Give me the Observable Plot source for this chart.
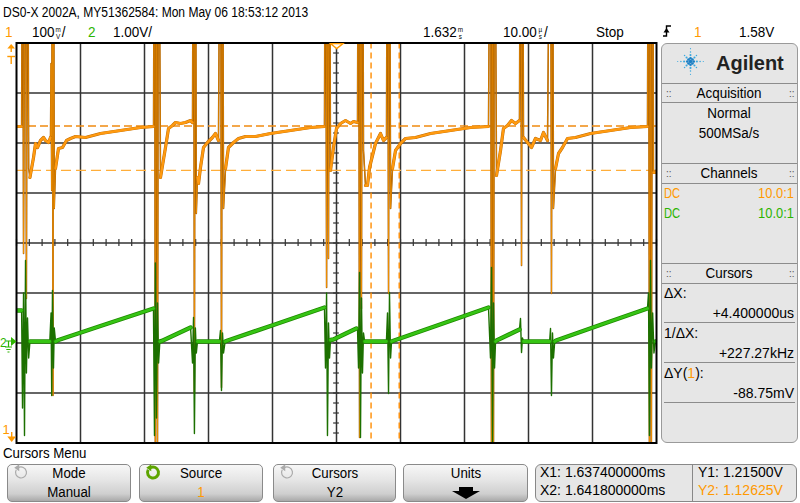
<!DOCTYPE html>
<html><head><meta charset="utf-8">
<script src="https://cdn.jsdelivr.net/npm/d3@7"></script>
<script src="https://cdn.jsdelivr.net/npm/@observablehq/plot@0.6"></script>
<style>
html,body{margin:0;padding:0;background:#fff;}
#root{position:relative;width:800px;height:503px;overflow:hidden;font-family:"Liberation Sans",Arial,sans-serif;background:#fff;}
.t{position:absolute;white-space:nowrap;line-height:1;color:#000;}
.box{position:absolute;box-sizing:border-box;}
.st{display:inline-block;width:6px;height:14px;vertical-align:-2px;margin:0 1px;}
.st>span{display:block;height:7px;line-height:7px;font-size:7px;text-align:center;overflow:visible;}
</style></head><body><div id="root"></div>
<script>
// ---- scope settings (time in µs relative to screen centre 1.632 ms) ----
const timeCentreMs = 1.632;
const timeRange = [-50, 50];            // 10.00 µs/div, 10 divisions
const ch1VoltsPerDiv = 0.1, ch1CentreV = 0.981;   // channel 1: 100 mV/div
const ch2VoltsPerDiv = 1.0, ch2CentreV = 2.0;     // channel 2: 1.00 V/div, ground 2 div below centre
const cursorXms = [1.6374, 1.6418];
const cursorYV = [1.215, 1.12625];

// channel 1 samples [t µs, volts, ringing flag]
const ch1 = [
[-50,1.214],[-49.2,1.214],
[-49.06,1.9,1],[-48.9,0.96,1],[-48.6,1.9,1],[-48.45,0.87,1],[-48.28,1.9,1],[-48.1,1.13,1],
[-47.9,1.112],[-47.34,1.152],[-47.03,1.180],[-46.72,1.172],[-46.25,1.186],[-45.78,1.192],[-45.47,1.186],[-45.0,1.182],[-44.69,1.192],
[-44.6,1.34,1],[-44.5,1.086,1],[-44.38,1.9,1],[-44.3,0.676,1],[-44.22,1.9,1],[-44.1,1.05,1],
[-43.91,1.13],[-43.44,1.170],[-42.81,1.172],[-42.19,1.186],[-41.56,1.190],[-40.78,1.194],[-39.22,1.192],[-36.88,1.200],[-33.75,1.206],[-30.63,1.212],[-28.59,1.214],
[-28.44,1.9,1],[-28.3,0.5,1],[-28.13,1.9,1],[-27.97,0.55,1],[-27.8,1.9,1],
[-27.5,1.112],[-26.72,1.172],[-26.25,1.210],[-25.63,1.216],[-25.16,1.222],[-24.38,1.220],[-23.59,1.222],[-22.81,1.226],[-22.5,1.222],
[-22.34,1.9,1],[-22.2,0.68,1],[-22.05,1.9,1],[-21.9,1.04,1],
[-21.72,1.112],[-21.56,1.100],[-21.25,1.132],[-20.78,1.172],[-20.16,1.182],[-19.38,1.192],[-18.91,1.200],[-18.44,1.186],
[-18.13,1.9,1],[-17.97,0.692,1],[-17.81,1.9,1],[-17.65,1.05,1],
[-17.34,1.130],[-16.88,1.172],[-16.09,1.182],[-15.31,1.190],[-14.22,1.194],[-12.66,1.194],[-10.31,1.200],[-7.19,1.206],[-4.06,1.212],[-1.88,1.214],
[-1.72,1.9,1],[-1.55,0.892,1],[-1.41,1.9,1],[-1.25,0.95,1],[-1.09,1.9,1],
[-0.94,1.126],[-0.47,1.172],[0,1.210],[0.63,1.220],[1.41,1.226],[2.19,1.220],[2.66,1.224],[3.28,1.222],
[3.44,1.9,1],[3.6,0.592,1],[3.75,1.9,1],[3.9,0.85,1],[4.06,1.9,1],[4.22,1.166,1],
[4.53,1.096],[4.84,1.096],[5.16,1.132],[5.63,1.156],[6.09,1.180],[6.88,1.200],[7.34,1.186],[7.81,1.192],
[7.97,1.9,1],[8.13,0.880,1],[8.28,1.9,1],[8.45,1.05,1],
[8.75,1.130],[9.22,1.166],[10.0,1.180],[10.78,1.190],[12.34,1.192],[14.69,1.200],[17.81,1.206],[20.94,1.212],[23.75,1.214],
[24.06,1.9,1],[24.22,0.5,1],[24.38,1.9,1],[24.53,0.55,1],[24.7,1.9,1],
[25.0,1.116],[25.63,1.166],[26.09,1.210],[26.72,1.216],[27.34,1.226],[27.97,1.220],[28.59,1.226],
[28.75,1.9,1],[28.91,0.936,1],[29.06,1.9,1],
[29.22,1.192],[29.84,1.182],[30.47,1.172],[31.09,1.190],[31.88,1.186],[32.34,1.202],[32.97,1.186],
[33.44,1.9,1],[33.59,0.880,1],[33.75,1.9,1],[33.9,1.05,1],
[34.22,1.130],[34.69,1.160],[35.31,1.172],[36.09,1.190],[37.34,1.192],[39.69,1.200],[42.81,1.206],[45.94,1.212],[48.59,1.214],
[48.75,1.9,1],[48.9,0.5,1],[49.06,1.9,1],[49.2,0.55,1],[49.4,1.9,1],
[49.53,1.122],[49.84,1.122],[50,1.125]
];

// channel 2 samples [t µs, volts, ringing flag]
const ch2 = [
[-50,0.65],[-49.2,0.65],
[-49.06,-1.3,1],[-48.9,1.0,1],[-48.75,-1.85,1],[-48.59,1.65,1],[-48.45,-0.6,1],[-48.28,0.5,1],[-48.1,-0.3,1],
[-47.9,0.03],[-44.8,0.03],
[-44.6,0.6,1],[-44.5,-1.05,1],[-44.38,1.05,1],[-44.22,-0.5,1],[-44.1,0.3,1],
[-43.9,0.03],[-43.44,0.06],[-36.88,0.34],[-28.6,0.69],
[-28.44,-1.85,1],[-28.3,1.6,1],[-28.13,-1.5,1],[-27.97,0.8,1],[-27.8,-0.4,1],
[-27.6,0.03],[-27.3,0.04],[-22.8,0.31],
[-22.5,-0.4,1],[-22.34,0.51,1],[-22.2,-1.81,1],[-22.05,0.3,1],[-21.9,-0.2,1],
[-21.72,0.03],[-18.3,0.03],
[-18.13,0.25,1],[-17.97,-0.95,1],[-17.81,0.2,1],[-17.65,-0.2,1],
[-17.4,0.03],[-17.0,0.05],[-9.4,0.38],[-1.88,0.71],
[-1.72,-0.5,1],[-1.55,1.0,1],[-1.41,-1.85,1],[-1.25,0.4,1],[-1.09,-0.3,1],
[-0.94,0.06],[-0.5,0.07],[3.1,0.29],
[3.28,0.3,1],[3.44,-0.5,1],[3.6,1.41,1],[3.75,-1.89,1],[3.9,0.9,1],[4.06,-0.6,1],[4.22,0.2,1],
[4.4,0.03],[7.8,0.03],
[7.97,0.6,1],[8.13,-1.01,1],[8.28,1.01,1],[8.45,-0.3,1],
[8.6,0.03],[9.0,0.05],[16.4,0.38],[23.75,0.71],
[24.06,-0.3,1],[24.22,1.51,1],[24.38,-2.0,1],[24.53,0.8,1],[24.7,-0.5,1],
[24.85,0.03],[25.0,0.05],[28.59,0.27],
[28.75,0.49,1],[28.91,-0.19,1],[29.06,0.1,1],
[29.22,0.03],[33.3,0.03],
[33.44,0.29,1],[33.59,-1.05,1],[33.75,0.2,1],[33.9,-0.3,1],
[34.1,0.03],[34.3,0.05],[41.4,0.37],[48.59,0.69],
[48.75,1.0,1],[48.9,-1.85,1],[49.06,1.65,1],[49.2,-0.5,1],[49.4,0.6,1],[49.6,-0.2,1],
[49.84,0.03],[50,0.03]
];

const gridX = [-40,-30,-20,-10,0,10,20,30,40];
const gridY = [-3,-2,-1,0,1,2,3];
const minorX = d3.range(-50, 50.001, 2);
const minorY = d3.range(-4, 4.001, 0.2);

const d1 = v => (v - ch1CentreV) / ch1VoltsPerDiv;
const d2 = v => (v - ch2CentreV) / ch2VoltsPerDiv;
const cx = cursorXms.map(m => (m - timeCentreMs) * 1000);

const ORANGE = "#ff9900", GREEN = "#2db400";

const chart = Plot.plot({
  width: 660, height: 503,
  marginLeft: 16, marginRight: 4, marginTop: 42.5, marginBottom: 60.5,
  x: {domain: timeRange, axis: null},
  y: {domain: [-4, 4], axis: null},
  style: {background: "transparent", overflow: "visible"},
  marks: [
    Plot.ruleX(gridX, {stroke: "#333", strokeWidth: 1.5}),
    Plot.ruleY(gridY, {stroke: "#333", strokeWidth: 1.5}),
    Plot.ruleX(minorX, {y1: -0.07, y2: 0.07, stroke: "#333", strokeWidth: 1.2}),
    Plot.ruleY(minorY, {x1: -0.45, x2: 0.45, stroke: "#333", strokeWidth: 1.2}),
    // cursors
    Plot.ruleY([cursorYV[0]], {y: d1, stroke: "#f08a10", strokeWidth: 1.4, strokeDasharray: "8,4"}),
    Plot.ruleY([cursorYV[1]], {y: d1, stroke: "#ffae3a", strokeWidth: 1.4, strokeDasharray: "10,5"}),
    Plot.ruleX(cx, {stroke: "#ff8c00", strokeWidth: 1.4, strokeDasharray: "6,4"}),
    // channel 1
    Plot.line(ch1, {x: d => d[0], y: d => d1(d[1]), stroke: "#8f4c00", strokeWidth: 1.5, clip: true}),
    Plot.line(ch1, {x: d => d[0], y: d => d1(d[1]), stroke: "#f39200", strokeWidth: 0.8, clip: true}),
    Plot.line(ch1, {x: d => d[0], y: d => d[2] ? NaN : d1(d[1]), stroke: "#c06c00", strokeWidth: 3.2, clip: true}),
    Plot.line(ch1, {x: d => d[0], y: d => d[2] ? NaN : d1(d[1]), stroke: "#ff9a10", strokeWidth: 2.3, clip: true}),
    // channel 2
    Plot.line(ch2, {x: d => d[0], y: d => d2(d[1]), stroke: "#1c7000", strokeWidth: 1.4, clip: true}),
    Plot.line(ch2, {x: d => d[0], y: d => d[2] ? NaN : d2(d[1]), stroke: "#1f8c00", strokeWidth: 4.4, clip: true}),
    Plot.line(ch2, {x: d => d[0], y: d => d[2] ? NaN : d2(d[1]), stroke: "#36c414", strokeWidth: 2.8, clip: true}),
    Plot.frame({stroke: "#000", strokeWidth: 2})
  ]
});
chart.style.position = "absolute";
chart.style.left = "0px";
chart.style.top = "0px";

const root = document.getElementById("root");
root.appendChild(chart);

function box(x, y, w, h, css) {
  const d = document.createElement("div");
  d.className = "box";
  Object.assign(d.style, {left: x + "px", top: y + "px", width: w + "px", height: h + "px"}, css || {});
  root.appendChild(d);
  return d;
}
function txt(html, x, base, o = {}) {
  const el = document.createElement("div");
  el.className = "t";
  const size = o.size || 14, sx = o.sx || 1;
  el.style.fontSize = size + "px";
  el.style.top = (base - size * 0.85) + "px";
  if (o.color) el.style.color = o.color;
  if (o.bold) el.style.fontWeight = "bold";
  el.innerHTML = html;
  if (o.align === "right") {
    el.style.right = (800 - x) + "px";
    el.style.transformOrigin = "right";
    el.style.transform = `scaleX(${sx})`;
  } else if (o.align === "center") {
    el.style.left = x + "px";
    el.style.transform = `translateX(-50%) scaleX(${sx})`;
  } else {
    el.style.left = x + "px";
    el.style.transformOrigin = "left";
    el.style.transform = `scaleX(${sx})`;
  }
  root.appendChild(el);
  return el;
}
const hl = (x1, x2, y, c) => box(x1, y, x2 - x1, 1, {background: c || "#8c8c8c"});
const stack = (a, b) => `<span class="st"><span>${a}</span><span>${b}</span></span>`;

// ---- header ----
txt("DS0-X 2002A, MY51362584: Mon May 06 18:53:12 2013", 3, 17, {size: 14, sx: 0.86});
const H2 = {size: 15, sx: 0.9};
txt("1", 5, 36.5, {...H2, color: ORANGE});
txt("100" + stack("m", "V") + "/", 32, 36.5, H2);
txt("2", 88, 36.5, {...H2, color: GREEN});
txt("1.00V/", 113, 36.5, H2);
txt("1.632" + stack("m", "s"), 423, 36.5, H2);
txt("10.00" + stack("µ", "s") + "/", 503, 36.5, H2);
txt("Stop", 596, 36.5, H2);
txt("1", 694, 36.5, {...H2, color: ORANGE});
txt("1.58V", 739, 36.5, H2);

// ---- side panel ----
box(661, 43, 137, 400, {background: "#e6e6e6", border: "1.5px solid #9a9a9a", borderRadius: "6px"});
[[83, 102], [163, 183], [263, 283]].forEach(([a, b]) => { hl(662, 797, a); hl(662, 797, b); });
[322, 362, 402].forEach(y => hl(664, 795, y, "#8c8c8c"));
[[93, "Acquisition"], [173, "Channels"], [273, "Cursors"]].forEach(([y, s]) => {
  txt("::", 666, y + 4, {size: 10, color: "#555"});
  txt("::", 789, y + 4, {size: 10, color: "#555"});
  txt(s, 729, y + 5, {size: 14, align: "center", sx: 0.96});
});
txt("Agilent", 716, 70, {size: 20, bold: true, color: "#222"});
txt("Normal", 729, 118, {size: 14, align: "center", sx: 0.96});
txt("500MSa/s", 729, 138, {size: 14, align: "center", sx: 0.96});
txt("DC", 664, 198, {size: 14, color: ORANGE, sx: 0.8});
txt("10.0:1", 794, 198, {size: 14, color: ORANGE, align: "right", sx: 0.92});
txt("DC", 664, 218, {size: 14, color: GREEN, sx: 0.8});
txt("10.0:1", 794, 218, {size: 14, color: GREEN, align: "right", sx: 0.92});
txt("ΔX:", 664, 298, {size: 14});
txt("+4.400000us", 794, 318, {size: 14, align: "right"});
txt("1/ΔX:", 664, 338, {size: 14});
txt("+227.27kHz", 794, 358, {size: 14, align: "right"});
txt(`ΔY(<span style="color:${ORANGE}">1</span>):`, 664, 378, {size: 14});
txt("-88.75mV", 794, 398, {size: 14, align: "right"});

// ---- softkeys ----
txt("Cursors Menu", 3, 458, {size: 14, sx: 0.95});
const keys = [[7, 124, "Mode", "Manual", "#000"], [139, 124, "Source", "1", ORANGE], [273, 123, "Cursors", "Y2", "#000"], [403, 125, "Units", "", "#000"]];
keys.forEach(([x, w, a, b, c]) => {
  box(x, 464, w, 38, {background: "linear-gradient(#f7f7f7 0%, #e6e6e6 40%, #cfcfcf 80%, #a9a9a9 100%)", border: "1px solid #8a8a8a", borderRadius: "5px"});
  txt(a, x + w / 2, 478, {size: 14, align: "center", sx: 0.95});
  if (b) txt(b, x + w / 2, 497, {size: 14, align: "center", sx: 0.95, color: c});
});
box(535, 464, 262, 38, {background: "#e6e6e6", border: "1.5px solid #888", borderRadius: "6px"});
box(692, 465, 1, 36, {background: "#888"});
txt("X1: 1.637400000ms", 540, 477, {size: 14});
txt("X2: 1.641800000ms", 540, 495, {size: 14});
txt("Y1: 1.21500V", 698, 477, {size: 14});
txt("Y2: 1.12625V", 698, 495, {size: 14, color: ORANGE});

// ---- decorative symbols overlay ----
const NS = "http://www.w3.org/2000/svg";
const ov = document.createElementNS(NS, "svg");
ov.setAttribute("width", 800); ov.setAttribute("height", 503);
Object.assign(ov.style, {position: "absolute", left: "0px", top: "0px", pointerEvents: "none"});
root.appendChild(ov);
function el(tag, attrs) { const e = document.createElementNS(NS, tag); for (const k in attrs) e.setAttribute(k, attrs[k]); ov.appendChild(e); return e; }
// trigger edge symbol
el("path", {d: "M663 36 H666.5 V26 H671", fill: "none", stroke: "#000", "stroke-width": 1.4});
el("polygon", {points: "663.5,32.5 669.5,32.5 666.5,28", fill: "#000"});
// trigger level marker (top-left)
el("polygon", {points: "7.3,48.5 15,48.5 11.2,44", fill: ORANGE});
el("line", {x1: 11.2, y1: 48, x2: 11.2, y2: 52, stroke: ORANGE, "stroke-width": 1.4});
el("line", {x1: 7.3, y1: 56.5, x2: 15, y2: 56.5, stroke: ORANGE, "stroke-width": 1.4});
el("line", {x1: 11.2, y1: 56.5, x2: 11.2, y2: 64, stroke: ORANGE, "stroke-width": 1.4});
// trigger time marker (top centre)
el("polygon", {points: "330.5,43.6 343,43.6 336.7,48.6", fill: "#fff", stroke: ORANGE, "stroke-width": 1.3});
// channel 2 ground marker
el("text", {x: 0, y: 346.5, fill: GREEN, "font-size": 12, "font-family": "Liberation Sans"}).textContent = "2";
el("path", {d: "M6 341 H11 M8.5 341 V347 M5 347 H12 M6.3 349.5 H10.7 M7.5 352 H9.5", stroke: GREEN, "stroke-width": 1.2, fill: "none"});
el("polygon", {points: "11,337 16.5,341.5 11,346", fill: GREEN});
// channel 1 marker (off-screen below)
el("text", {x: 2.5, y: 433.5, fill: ORANGE, "font-size": 13, "font-family": "Liberation Sans"}).textContent = "1";
el("line", {x1: 11.7, y1: 432, x2: 11.7, y2: 437, stroke: ORANGE, "stroke-width": 1.4});
el("polygon", {points: "7.3,436.5 16,436.5 11.7,442", fill: ORANGE});
// Agilent starburst logo
const lx = 690.5, ly = 61.5;
el("circle", {cx: lx, cy: ly, r: 1.8, fill: "#1b7fc4"});
for (let k = 0; k < 8; k++) {
  const a = k * Math.PI / 4, diag = k % 2 === 1;
  for (let i = 1; i <= 4; i++) {
    if (diag && i === 4) continue;
    const dd = i * (diag ? 2.8 : 3.2);
    el("circle", {cx: lx + dd * Math.cos(a), cy: ly + dd * Math.sin(a), r: Math.max(0.6, 1.6 - i * 0.28), fill: i <= 1 ? "#1b7fc4" : "#3aa9df"});
  }
}
// softkey icons
function refresh(cx0, cy0, r, color, sw) {
  const sx0 = cx0 - r * 0.5, sy0 = cy0 - r * 0.866;
  el("path", {d: `M${sx0} ${sy0} A${r} ${r} 0 1 1 ${cx0 - r * 0.866} ${cy0 - r * 0.5}`, fill: "none", stroke: color, "stroke-width": sw});
  el("polygon", {points: `${sx0 + 1},${sy0 - 3.5} ${sx0 + 1},${sy0 + 3.5} ${sx0 - 4},${sy0}`, fill: color});
}
refresh(21, 472.5, 5.5, "#aaaaaa", 1.2);
refresh(153, 472.5, 5.5, "#5da400", 3);
refresh(287, 472.5, 5.5, "#aaaaaa", 1.2);
// units down arrow
el("rect", {x: 459, y: 487, width: 14, height: 4, fill: "#000"});
el("polygon", {points: "452,491 480,491 466,499", fill: "#000"});
</script></body></html>
